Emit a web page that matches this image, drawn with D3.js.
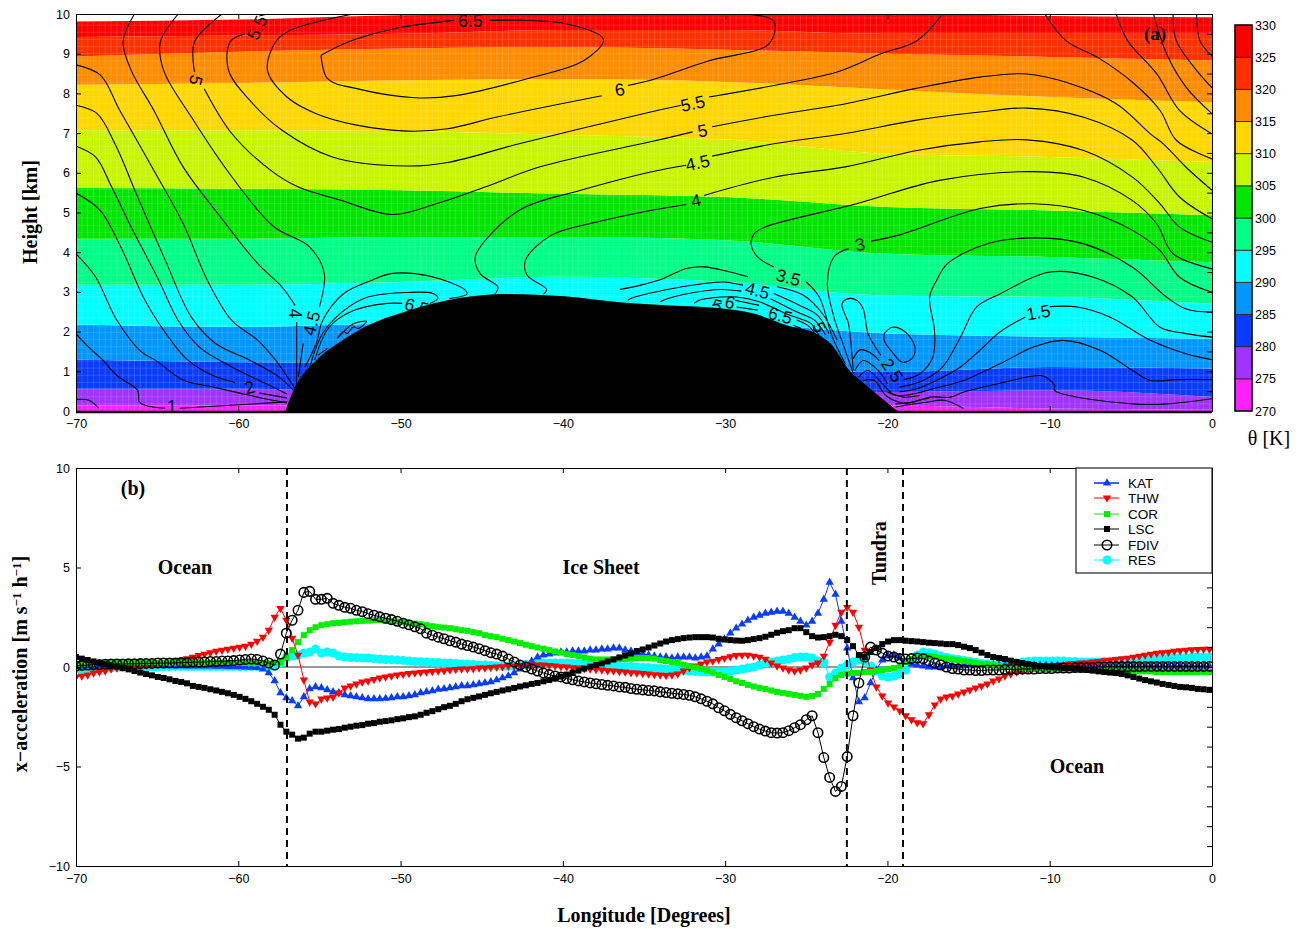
<!DOCTYPE html>
<html>
<head>
<meta charset="utf-8">
<script src="https://d3js.org/d3.v7.min.js"></script>
<style>
body { margin: 0; background: #fff; }
svg { display: block; }
.tick text { font-family: "Liberation Sans", sans-serif; font-size: 12.5px; fill: #000; }
.serif { font-family: "Liberation Serif", serif; font-weight: bold; }
</style>
</head>
<body>
<svg id="chart" width="1299" height="929"></svg>
<script>
'use strict'

// potential temperature band edges, km, at bandLon
const bandLon = [-70, -60, -50, -40, -30, -20, -10, 0];
const theta270 = [0, 0, 0, 0, 0, 0, 0, 0];
const theta275 = [.14, .14, .14, .14, .14, .14, .06, .03];
const theta280 = [.56, .56, .5, .5, .5, .48, .52, .35];
const theta285 = [1.3, 1.23, 1.2, 1.2, 1.1, .98, 1.11, 1.07];
const theta290 = [2.18, 2.12, 2.2, 2.2, 2.2, 1.95, 1.87, 1.82];
const theta295 = [3.18, 3.18, 3.25, 3.38, 3.25, 2.91, 2.87, 2.7];
const theta300 = [4.34, 4.34, 4.38, 4.38, 4.3, 3.96, 3.88, 3.75];
const theta305 = [5.62, 5.6, 5.56, 5.47, 5.39, 5.14, 5.05, 4.93];
const theta310 = [7.07, 7.07, 7.05, 6.95, 6.84, 6.48, 6.4, 6.27];
const theta315 = [8.22, 8.26, 8.33, 8.36, 8.29, 8.1, 7.91, 7.78];
const theta320 = [8.93, 9.05, 9.13, 9.17, 9.1, 9, 8.92, 8.83];
const theta325 = [9.42, 9.46, 9.5, 9.6, 9.6, 9.5, 9.5, 9.5];
const theta330 = [9.81, 9.86, 9.97, 10, 10, 10, 9.95, 9.92];
const thetaEdges = [theta270, theta275, theta280, theta285, theta290, theta295, theta300, theta305, theta310, theta315, theta320, theta325, theta330];
const thetaTicks = [270, 275, 280, 285, 290, 295, 300, 305, 310, 315, 320, 325, 330];
const thetaColors = ['#ff20ff', '#a033ff', '#0a3cff', '#0096ff', '#00ffff', '#00ff87', '#00e600', '#c8f500', '#ffd700', '#ff8c00', '#ff3000', '#ff0000'];

// ice sheet profile
const terrainLon = [-57.1, -56.6, -55.2, -53.7, -52.1, -49.6, -46.3, -43.5, -39.9, -36.5, -33.4, -30.3, -28.3, -26.2, -24.2, -23.5, -22.3, -21.4, -20.2, -19.4];
const terrainKm = [0, .52, 1.28, 1.75, 2.14, 2.52, 2.85, 2.95, 2.89, 2.74, 2.66, 2.59, 2.46, 2.16, 1.91, 1.7, 1, .68, .27, 0];

// wind speed contours, [lon, km], null where a label breaks the line
const cornerLow = [[-70, .29], [-69.2, .27], [-68.6, .07]];
const oneLeft = [[-70, 1.95], [-69.2, 1.6], [-68.4, 1.3], [-67.5, .9], [-66.2, .52], [-66.1, .23], [-65.7, .14], [-64.5, .07], null, [-63.6, .07], [-60.7, .14], [-57, .23]];
const leftB = [[-70, 3.96], [-68.8, 3.38], [-67.5, 2.3], [-66, 1.5], [-65, 1.25], [-63.4, .78], [-61.5, .6], [-59.9, .45], [-58.5, .32], [-57, .2]];
const twoLeft = [[-70, 5.49], [-68.5, 5.05], [-67.2, 4.1], [-65.7, 2.75], [-64.1, 1.75], [-63.1, 1.28], [-61.6, .9], [-60.2, .72], null, [-58.7, .45], [-57, .33]];
const leftD = [[-70, 6.67], [-68.8, 6.4], [-67.8, 5.64], [-66.5, 4.55], [-65, 3.38], [-63.7, 2.28], [-62.4, 1.61], [-60.4, 1.11], [-58.3, .69], [-57, .43]];
const leftE = [[-70, 7.7], [-68.7, 7.49], [-67.6, 6.73], [-66.2, 5.39], [-64.5, 3.8], [-62.9, 2.37], [-61.4, 1.7], [-59.3, 1.28], [-57.5, .86], [-56.6, .52]];
const leftF = [[-70, 8.72], [-68.5, 8.46], [-67.3, 7.57], [-65.2, 6.06], [-63.4, 4.72], [-61.9, 3.29], [-60.4, 2.28], [-58.8, 1.78], [-57.7, 1.28], [-56.5, .56]];
const fourLeft = [[-66.4, 10], [-67.1, 9.3], [-66.6, 8.58], [-65.2, 7.57], [-63.4, 6.15], [-61.1, 4.89], [-58.8, 3.71], [-57.3, 3.12], [-56.5, 2.66], null, [-56.4, 2.24], [-56.4, .56]];
const fourFiveLeft = [[-63.7, 10], [-64.8, 9.3], [-64.6, 8.58], [-62.9, 7.41], [-60.4, 5.9], [-57.8, 4.64], [-55.6, 4.13], [-54.7, 3.46], [-55, 2.62], null, [-56, 1.7], [-56.3, .86]];
const six5Top = [[-54.9, 8.96], [-54.5, 8.37], [-52.7, 8.12], [-49.1, 7.89], [-46.5, 7.95], [-42.2, 8.37], [-38.7, 8.83], [-37.5, 9.36], [-39.9, 9.76], [-44.5, 9.84], null, [-46.7, 9.84], [-50.4, 9.63], [-53.2, 9.3], [-54.9, 8.96]];
const sixTop = [[-52.9, 10], [-56.8, 9.59], [-57.7, 9.3], [-58.2, 8.58], [-57, 7.91], [-55.2, 7.49], [-52.7, 7.2], [-49.6, 7.05], [-47.1, 7.11], [-44, 7.41], [-37.6, 7.94], null, [-36, 8.2], [-34.6, 8.33], [-31, 8.82], [-27.3, 9.25], [-27, 9.82], [-28.9, 10]];
const fiveFive = [[-58.2, 10], [-58.7, 9.95], null, [-59.6, 9.5], [-60.5, 9.3], [-60.6, 8.58], [-59.3, 7.83], [-57.3, 7.07], [-54.2, 6.4], [-49.6, 6.17], [-47.1, 6.26], [-42.7, 6.73], [-34.6, 7.53], [-32.7, 7.7], null, [-31, 7.91], [-27, 8.2], [-23.1, 8.54], [-20.4, 9], [-18.2, 9.32], [-16.6, 10]];
const five = [[-61, 10], [-62.7, 9.3], [-62.7, 8.54], null, [-62.1, 8.12], [-60.4, 6.99], [-58, 6.06], [-56.3, 5.64], [-53.7, 5.31], [-50.5, 4.95], [-47.8, 5.22], [-44.8, 5.64], [-41.4, 6.15], [-34.6, 6.78], [-32, 7.03], null, [-30.8, 7.16], [-27, 7.45], [-23.1, 7.7], [-18.3, 8.12], [-14.3, 8.41], [-11.4, 8.49], [-9, 8.28], [-5.9, 7.74], [-3.8, 6.98], [-3, 6.73], [-1.6, 6.14], [0, 5.56]];
const fourFive = [[-44.2, 2.94], [-44, 3.12], [-45.1, 3.46], [-45.4, 3.88], [-44.6, 4.38], [-42.5, 5.1], [-38.9, 5.56], [-34.6, 6.02], [-32.4, 6.19], null, [-30.8, 6.42], [-27, 6.73], [-22.6, 6.99], [-18.3, 7.32], [-14.3, 7.53], [-11.4, 7.63], [-7.9, 7.4], [-4.9, 6.82], [-3.4, 6.14], [-2, 5.39], [0, 4.84]];
const four = [[-41.2, 2.94], [-41, 3.06], [-42.2, 3.42], [-42.3, 3.8], [-40.7, 4.43], [-37.9, 4.76], [-34.6, 5.05], [-32.4, 5.2], null, [-31.3, 5.43], [-27, 5.89], [-22.6, 6.15], [-18.1, 6.57], [-14.3, 6.78], [-11.4, 6.83], [-7.9, 6.56], [-4.9, 5.89], [-3.2, 5.22], [-2, 4.63], [0, 4.25]];
const threeFive = [[-22.6, 1.19], [-23.4, 1.87], [-24.2, 2.87], [-25, 3.25], null, [-27, 3.63], [-28, 3.88], [-28.4, 4.22], [-28.2, 4.47], [-27.5, 4.64], [-21.9, 5.22], [-16.8, 5.81], [-11, 6.03], [-7.9, 5.89], [-4.9, 5.3], [-3.4, 4.71], [-2.4, 3.96], [0, 3.58]];
const three = [[-22.1, .94], [-22.6, 1.53], [-23.3, 2.37], [-23.7, 3.21], [-23.3, 3.88], [-22.4, 4.09], null, [-21, 4.28], [-19.3, 4.43], [-14.3, 5.1], [-11, 5.22], [-7.9, 5.05], [-4.9, 4.55], [-3.2, 4.04], [-2, 3.37], [0, 2.99]];
const twoFive = [[-19, .79], [-18, .94], [-17.2, 1.36], [-17.1, 2.03], [-17.4, 2.87], [-16.97, 3.29], [-16.3, 3.71], [-13.8, 4.22], [-10.8, 4.36], [-7.9, 4.21], [-4.9, 3.62], [-2.8, 2.87], [-1.6, 2.57], [0, 2.49]];
const two = [[-19.3, .6], [-17.8, .77], [-16.6, 1.11], [-15.5, 1.86], [-14.5, 2.62], [-13.07, 2.95], [-10, 3.5], [-7.3, 3.37], [-4.9, 2.87], [-3.2, 2.11], [-1.6, 1.95], [0, 1.86]];
const oneFive = [[-19.3, .48], [-18.2, .56], [-17, .77], [-15.5, 1.11], [-14.3, 1.53], [-13.07, 1.99], [-11.5, 2.37], null, [-10, 2.63], [-8.3, 2.62], [-6.3, 2.37], [-3.8, 1.78], [-1.6, 1.44], [0, 1.29]];
const one = [[-20, .48], [-19.4, .39], [-18.4, .43], [-17.2, .56], [-15.3, .77], [-13.07, 1.19], [-11, 1.61], [-9.2, 1.78], [-6.9, 1.53], [-4.9, 1.02], [-3.8, .77], [-2.2, .79], [0, .79]];
const low = [[-19.5, .18], [-18.4, .22], [-17.4, .35], [-16.1, .35], [-15.3, .48], [-13.07, .7], [-11, .88], [-10.4, .88], [-9.7, .65], [-9.7, .52], [-8.8, .39], [-4.9, .18], [-2.8, .18], [0, .31]];
const lowB = [[-19.5, .1], [-17.6, .22], [-16.5, .27], [-15.3, .06]];
const rightA = [[-.95, 10], [-.75, 9.33], [0, 8.94]];
const rightB = [[-2.4, 10], [-2.2, 9.33], [-.95, 8.58], [0, 8.14]];
const rightC = [[-3.6, 10], [-2.8, 9], [-1.6, 8.16], [0, 7.49]];
const rightD = [[-5.9, 10], [-5.2, 9.33], [-3.4, 8.49], [-2, 7.57], [0, 6.98]];
const rightE = [[-10.3, 10], [-9, 9.33], [-6.9, 8.87], [-4.9, 8.28], [-3.2, 7.57], [-2.2, 6.82], [0, 6.35]];
const loopNarrow = [[-22.1, 1.02], [-22.2, 1.48], [-22.4, 2.2], [-22.8, 2.7], [-22.4, 2.83], [-21.9, 2.79], [-21.5, 2.58], [-21.2, 1.95], [-20.8, 1.65], [-20.4, 1.4]];
const loopOval = [[-20.2, 1.95], [-19.7, 2.11], [-18.9, 1.99], [-18.3, 1.61], [-18.5, 1.32], [-19.1, 1.23], [-19.7, 1.48], [-20.2, 1.78], [-20.2, 1.95]];
const rippleA = [[-22.1, 1.32], [-21.7, 1.54], [-21.1, 1.48], [-20.5, 1.27]];
const rippleB = [[-22, 1.02], [-21.5, 1.27], [-20.8, 1.11], [-20.4, .94], [-20, .69]];
const rippleC = [[-21.8, .85], [-21.2, 1.02], [-20.5, .77], [-19.7, .44], [-19, .35], [-18, .39]];
const rippleD = [[-21.5, .77], [-20.8, .77], [-20.1, .39], [-19, .2], [-18, .28], [-17.4, .33]];
const slopeA = [[-36.5, 3.06], [-35.2, 3.17], [-33.8, 3.34], [-32.4, 3.59], [-31.3, 3.63], [-29.7, 3.5], [-28.6, 3.38], null, [-26.8, 3.13], [-25.2, 2.92], [-24, 2.45], [-23.1, 1.78]];
const slopeB = [[-36, 2.79], [-35.7, 2.85], [-33.8, 3.04], [-31.3, 3.21], [-30.1, 3.25], [-28.9, 3.17], null, [-27, 2.96], [-25.4, 2.66], [-24.3, 2.41], [-23.6, 1.95]];
const slopeC = [[-34, 2.75], [-33.7, 2.81], [-32, 2.98], [-30.3, 3.06], [-29, 3.02], null, [-27.2, 2.83], [-25.6, 2.5], [-24.5, 2.29], [-23.8, 1.91]];
const slopeD = [[-31.9, 2.71], [-31.6, 2.79], [-30.3, 2.87], [-29.3, 2.87], [-27.9, 2.75], [-26, 2.41], [-24.7, 2.2], [-24.2, 1.87]];
const slopeE = [[-30.8, 2.66], [-30.2, 2.72], null, [-29.4, 2.79], [-27.9, 2.66], null, [-25.6, 2.29], [-24.8, 2.12], [-24.3, 1.82]];
const slopeF = [[-29.3, 2.62], [-28, 2.54], null, [-25.8, 2.16], [-25.3, 2.08]];
const moundA = [[-55.9, 1.1], [-55.2, 1.7], [-54.8, 2.28], [-53.5, 2.96], [-51.8, 3.29], [-50.6, 3.46], [-49.1, 3.46], [-47.6, 3.33], [-46, 3.04], [-45.9, 2.95], [-47, 2.83]];
const moundB = [[-55.6, 1.1], [-54.8, 1.96], [-53.5, 2.53], [-52.1, 2.86], [-49.9, 2.98], [-48, 2.96], [-47.7, 2.84], [-48.2, 2.71]];
const moundC = [[-55.3, 1.28], [-54.4, 2.11], [-52.9, 2.53], [-50.8, 2.71], [-49.9, 2.71]];
const moundD = [[-53.9, 1.83], [-53.5, 2], [-53.3, 1.95], [-52.9, 2.12], [-52.6, 2.08], [-52.1, 2.26], [-52.9, 2.2], [-53.3, 2.08], [-53.9, 1.83]];
const moundE = [[-55.1, 1.4], [-54.5, 1.58]];
const contours = [cornerLow, oneLeft, leftB, twoLeft, leftD, leftE, leftF, fourLeft, fourFiveLeft, six5Top, sixTop, fiveFive, five, fourFive, four, threeFive, three, twoFive, two, oneFive, one, low, lowB, rightA, rightB, rightC, rightD, rightE, loopNarrow, loopOval, rippleA, rippleB, rippleC, rippleD, slopeA, slopeB, slopeC, slopeD, slopeE, slopeF, moundA, moundB, moundC, moundD, moundE];

// contour labels: text, lon, km, rotation
const contourLabels = [
  ['1', -64.1, .12, 0], ['2', -59.3, .6, -15], ['4', -56.5, 2.46, 90], ['4.5', -55.5, 2.21, -75],
  ['5', -62.6, 8.33, 105], ['5.5', -58.85, 9.66, -65], ['6.5', -45.7, 9.84, 0], ['6', -36.5, 8.1, -10],
  ['5.5', -32, 7.75, -12], ['5', -31.4, 7.07, -10], ['4.5', -31.7, 6.26, -12], ['4', -31.8, 5.31, -12],
  ['3', -21.7, 4.2, -10], ['3.5', -26.1, 3.37, 15], ['4.5', -28, 3.04, 15], ['6', -29.7, 2.74, 15],
  ['5', -30.5, 2.66, 15], ['6.5', -26.6, 2.41, 15], ['5', -24.2, 2.11, 65], ['2.5', -19.7, 1.03, 55],
  ['1.5', -10.7, 2.49, -10], ['6.5', -49, 2.64, 15]
];

// x-acceleration terms, one value every lonStep degrees from lonStart
const lonStart = -70;
const lonStep = 0.36;
const kat = [
  .02,.03,.04,.05,.05,.06,.07,.07,.08,.08, .08,.09,.09,.08,.08,.07,.07,.06,.06,.05,
  .05,.05,.04,.04,.03,.03,.02,.02,.01,0, -.02,-.03,-.1,-.3,-.7,-1.3,-1.55,-1.7,-1.95,-1.5,
  -1.1,-1,-1.05,-1.15,-1.25,-1.3,-1.4,-1.45,-1.5,-1.55, -1.6,-1.6,-1.6,-1.58,-1.55,-1.5,-1.5,-1.45,-1.4,-1.3,
  -1.25,-1.2,-1.12,-1.1,-1.05,-1,-.95,-.95,-.9,-.85, -.8,-.75,-.65,-.55,-.45,-.3,-.1,.1,.3,.5,
  .6,.65,.7,.75,.75,.8,.8,.8,.85,.85, .9,.9,.95,.95,.85,.8,.7,.65,.6,.55,
  .5,.5,.45,.5,.5,.5,.45,.5,.55,.9, 1.15,1.4,1.7,1.95,2.15,2.35,2.5,2.6,2.7,2.75,
  2.8,2.8,2.7,2.5,2.3,2.1,2.3,2.7,3.4,4.25, 3.65,2.3,.95,-.55,-1.75,-1.55,-.8,-.15,.35,.55,
  .6,.45,.25,.15,.1,.05,0,0,0,.05, .05,.05,.1,.1,.1,.1,.1,.1,.1,.1,
  .1,.1,.1,.1,.1,.1,.1,.08,.08,.08, .08,.08,.08,.08,.05,.05,.05,.05,.05,.05,
  .05,.05,.05,.05,.05,.05,.05,.05,.05,.05, .05,.05,.05,.05,.05
];
const thw = [
  -.5,-.45,-.4,-.3,-.25,-.2,-.1,-.05,0,.05, .08,.1,.1,.12,.15,.2,.25,.3,.35,.42,
  .5,.58,.65,.72,.8,.85,.9,.95,1,1.05, 1.15,1.3,1.5,1.85,2.5,2.95,2.35,1.45,.6,-.65,
  -1.75,-1.85,-1.6,-1.55,-1.5,-1.3,-1.05,-.95,-.85,-.75, -.7,-.62,-.55,-.5,-.45,-.4,-.36,-.32,-.3,-.27,
  -.25,-.22,-.2,-.18,-.15,-.12,-.1,-.1,-.08,-.05, -.05,-.02,0,.02,.05,.05,.08,.1,.1,.1,
  .1,.08,.05,.02,0,-.03,-.05,-.08,-.1,-.12, -.15,-.18,-.2,-.22,-.25,-.28,-.3,-.32,-.35,-.38,
  -.4,-.42,-.4,-.35,-.2,-.05,.05,.15,.25,.3, .38,.45,.52,.58,.6,.6,.55,.5,.4,.2,
  .05,-.05,-.15,-.2,-.15,-.05,.1,.2,.55,1.25, 2.1,2.75,3,2.75,2,.85,-.15,-1,-1.45,-1.8,
  -2,-2.2,-2.45,-2.65,-2.8,-2.85,-2.4,-1.9,-1.6,-1.5, -1.45,-1.35,-1.25,-1.15,-1.05,-.95,-.85,-.7,-.6,-.45,
  -.35,-.25,-.18,-.12,-.05,0,.02,.05,.08,.1, .15,.17,.2,.22,.25,.28,.32,.35,.38,.42,
  .45,.5,.55,.6,.65,.7,.72,.75,.8,.82, .85,.87,.88,.9,.9
];
const cor = [
  .12,.15,.18,.2,.2,.22,.22,.25,.25,.25, .22,.22,.25,.25,.22,.22,.2,.2,.22,.22,
  .22,.2,.2,.2,.22,.22,.2,.2,.2,.2, .2,.2,.2,.18,.2,.25,.45,.85,1.25,1.6,
  1.85,2,2.1,2.15,2.2,2.22,2.25,2.28,2.3,2.32, 2.33,2.35,2.35,2.33,2.3,2.28,2.25,2.2,2.18,2.15,
  2.1,2.05,2,1.98,1.95,1.9,1.85,1.82,1.75,1.7, 1.6,1.55,1.5,1.42,1.35,1.28,1.2,1.12,1.05,.98,
  .92,.85,.78,.72,.65,.6,.55,.48,.42,.38, .38,.38,.38,.4,.4,.42,.45,.45,.45,.42,
  .35,.3,.25,.2,.12,.05,-.02,-.1,-.18,-.28, -.4,-.5,-.6,-.72,-.8,-.9,-.98,-1.05,-1.1,-1.18,
  -1.25,-1.3,-1.35,-1.4,-1.45,-1.5,-1.45,-1.35,-1.1,-.85, -.55,-.4,-.33,-.3,-.3,-.25,-.25,-.2,-.15,-.1,
  -.05,.05,.25,.4,.5,.55,.55,.5,.45,.42, .38,.35,.3,.25,.2,.15,.12,.1,.05,.02,
  0,-.02,-.05,-.05,-.08,-.08,-.1,-.1,-.1,-.12, -.12,-.12,-.15,-.15,-.15,-.15,-.18,-.18,-.2,-.2,
  -.2,-.2,-.22,-.22,-.22,-.25,-.25,-.25,-.25,-.25, -.25,-.25,-.25,-.25,-.25
];
const lsc = [
  .5,.42,.35,.28,.2,.14,.08,.02,-.05,-.12, -.2,-.28,-.35,-.42,-.5,-.55,-.62,-.7,-.75,-.82,
  -.95,-1,-1.05,-1.12,-1.18,-1.25,-1.32,-1.4,-1.5,-1.6, -1.72,-1.85,-2,-2.15,-2.4,-2.9,-3.25,-3.4,-3.6,-3.55,
  -3.35,-3.25,-3.25,-3.2,-3.15,-3.12,-3.05,-3,-2.95,-2.92, -2.85,-2.82,-2.75,-2.72,-2.68,-2.62,-2.58,-2.52,-2.48,-2.4,
  -2.3,-2.22,-2.12,-2.02,-1.95,-1.85,-1.72,-1.62,-1.55,-1.48, -1.4,-1.32,-1.25,-1.18,-1.12,-1.05,-.98,-.92,-.85,-.8,
  -.72,-.65,-.58,-.48,-.38,-.28,-.18,-.08,.02,.1, .18,.28,.38,.48,.58,.68,.8,.88,.98,1.08,
  1.18,1.28,1.35,1.4,1.45,1.48,1.5,1.5,1.5,1.48, 1.42,1.38,1.35,1.33,1.32,1.35,1.4,1.45,1.52,1.62,
  1.72,1.8,1.85,1.95,1.95,1.75,1.55,1.48,1.5,1.55, 1.62,1.55,1.35,1.05,.6,.5,.75,.95,1.15,1.28,
  1.35,1.35,1.32,1.3,1.28,1.25,1.22,1.2,1.18,1.15, 1.15,1.1,1.02,.95,.85,.72,.6,.5,.45,.4,
  .32,.25,.2,.15,.1,.05,.02,0,-.02,-.05, -.05,-.08,-.1,-.15,-.18,-.22,-.25,-.28,-.3,-.35,
  -.42,-.5,-.58,-.66,-.72,-.78,-.85,-.9,-.95,-1, -1.02,-1.05,-1.1,-1.12,-1.15
];
const fdiv = [
  .05,.08,.1,.12,.12,.14,.15,.15,.15,.16, .16,.17,.18,.18,.2,.2,.2,.2,.22,.22,
  .25,.25,.25,.28,.28,.3,.3,.32,.35,.38, .4,.38,.3,.2,.1,.65,1.7,2.35,2.85,3.75,
  3.8,3.4,3.4,3.45,3.2,3.1,3,2.95,2.85,2.78, 2.68,2.6,2.52,2.45,2.38,2.3,2.2,2.12,2.02,1.92,
  1.7,1.6,1.5,1.42,1.32,1.25,1.15,1.08,1,.92, .82,.72,.65,.55,.4,.25,.1,0,-.1,-.2,
  -.3,-.38,-.45,-.5,-.58,-.64,-.7,-.75,-.8,-.84, -.88,-.92,-.95,-1,-1.02,-1.08,-1.12,-1.15,-1.18,-1.2,
  -1.25,-1.28,-1.32,-1.35,-1.38,-1.42,-1.5,-1.6,-1.72,-1.85, -2.05,-2.2,-2.38,-2.55,-2.7,-2.85,-3,-3.12,-3.22,-3.3,
  -3.32,-3.3,-3.2,-3.05,-2.9,-2.65,-2.45,-3.3,-4.55,-5.55, -6.25,-6,-4.5,-2.45,-.8,.5,1,.85,.7,.55,
  .5,.42,.4,.42,.45,.42,.3,.2,.1,0, -.08,-.1,-.15,-.15,-.18,-.18,-.15,-.15,-.15,-.12,
  -.12,-.12,-.1,-.1,-.1,-.08,-.08,-.08,-.05,-.05, -.05,-.03,-.03,-.02,-.02,0,0,.02,.02,.02,
  .02,.02,.02,.03,.03,.03,.03,.03,.03,.03, .03,.03,.03,.03,.03
];
const res = [
  -.1,-.1,-.08,-.08,-.05,-.05,-.05,-.03,-.03,-.02, -.02,-.02,0,0,0,.02,.02,.02,.02,.02,
  .02,.02,.02,.02,.02,.02,.02,.02,.02,.02, .02,.02,.02,.02,.05,.2,.5,.55,.6,.7,
  .75,.9,.7,.75,.7,.55,.5,.48,.47,.45, .45,.42,.4,.38,.36,.35,.33,.3,.28,.26,
  .25,.23,.22,.2,.2,.18,.15,.15,.12,.1, .1,.08,.05,.03,.03,.05,.08,.12,.15,.18,
  .2,.2,.2,.2,.2,.18,.18,.15,.15,.12, .1,.08,.06,.05,.03,.02,0,-.02,-.03,-.05,
  -.08,-.1,-.12,-.15,-.18,-.2,-.22,-.25,-.25,-.25, -.25,-.25,-.2,-.15,-.1,-.05,0,.1,.2,.25,
  .3,.35,.4,.48,.5,.5,.45,.3,.2,-.5, -.3,-.05,.1,.25,.35,.3,.05,-.2,-.45,-.5,
  -.45,-.35,-.15,.3,.6,.75,.72,.65,.55,.48, .42,.38,.32,.28,.22,.18,.15,.12,.12,.15,
  .18,.2,.25,.28,.3,.3,.3,.3,.3,.3, .28,.28,.25,.25,.25,.25,.28,.28,.3,.3,
  .32,.32,.35,.38,.4,.42,.42,.45,.45,.48, .48,.5,.5,.5,.5
];

const lonTicks = [-70, -60, -50, -40, -30, -20, -10, 0];
const kmTicks = [0, 1, 2, 3, 4, 5, 6, 7, 8, 9, 10];
const accelTicks = [-10, -5, 0, 5, 10];
const regionLines = [-57, -22.5, -19.04];

const svg = d3.select('#chart');
const LEFT = 76, RIGHT = 1212;

const xA = d3.scaleLinear().domain([-70, 0]).range([LEFT, RIGHT]);
const yA = d3.scaleLinear().domain([0, 10]).range([411, 14]);
const xB = d3.scaleLinear().domain([-70, 0]).range([LEFT, RIGHT]);
const yB = d3.scaleLinear().domain([-10, 10]).range([866, 468]);
const yBar = d3.scaleLinear().domain([270, 330]).range([411, 25]);

svg.append('clipPath').attr('id', 'panelA').append('rect')
  .attr('x', LEFT).attr('y', 14).attr('width', RIGHT - LEFT).attr('height', 397);
svg.append('clipPath').attr('id', 'panelB').append('rect')
  .attr('x', LEFT).attr('y', 468).attr('width', RIGHT - LEFT).attr('height', 398);

// panel (a)
const panelA = svg.append('g').attr('clip-path', 'url(#panelA)');

const bandArea = d3.area()
  .x(d => xA(d.lon))
  .y0(d => yA(d.lo))
  .y1(d => yA(d.hi))
  .curve(d3.curveMonotoneX);

thetaColors.forEach((color, i) => {
  const rows = bandLon.map((lon, j) => ({ lon: lon, lo: thetaEdges[i][j], hi: thetaEdges[i + 1][j] }));
  panelA.append('path').attr('d', bandArea(rows)).attr('fill', color);
});

// faint model mesh seen through the shading
const meshLon = d3.range(lonStart, 0, lonStep);
const meshKm = d3.range(0, 10, 0.18);
panelA.append('g').selectAll('line').data(meshLon).enter().append('line')
  .attr('x1', d => xA(d)).attr('x2', d => xA(d)).attr('y1', yA(0)).attr('y2', yA(10))
  .attr('stroke', '#fff').attr('stroke-opacity', 0.16);
panelA.append('g').selectAll('line').data(meshKm).enter().append('line')
  .attr('x1', LEFT).attr('x2', RIGHT).attr('y1', d => yA(d)).attr('y2', d => yA(d))
  .attr('stroke', '#fff').attr('stroke-opacity', 0.13);

const contourLine = d3.line()
  .defined(d => d !== null)
  .x(d => xA(d[0]))
  .y(d => yA(d[1]))
  .curve(d3.curveCatmullRom);

panelA.append('g').selectAll('path').data(contours).enter().append('path')
  .attr('d', contourLine)
  .attr('fill', 'none').attr('stroke', '#000').attr('stroke-width', 1.1);

panelA.append('g').selectAll('text').data(contourLabels).enter().append('text')
  .attr('transform', d => 'translate(' + xA(d[1]) + ',' + yA(d[2]) + ') rotate(' + d[3] + ')')
  .attr('text-anchor', 'middle').attr('dy', '.36em')
  .style('font-family', '"Liberation Sans", sans-serif').style('font-size', '17.5px')
  .text(d => d[0]);

const terrainRows = terrainLon.map((lon, i) => ({ lon: lon, km: terrainKm[i] }));
panelA.append('path')
  .attr('d', d3.area().x(d => xA(d.lon)).y0(yA(0)).y1(d => yA(d.km)).curve(d3.curveMonotoneX)(terrainRows))
  .attr('fill', '#000');

function frame(x, y, top, bottom, lonVals, yVals, rightVals) {
  svg.append('g').attr('transform', 'translate(0,' + bottom + ')')
    .call(d3.axisBottom(x).tickValues(lonVals).tickSize(-5).tickSizeOuter(0).tickPadding(8));
  svg.append('g').attr('transform', 'translate(' + LEFT + ',0)')
    .call(d3.axisLeft(y).tickValues(yVals).tickSize(-5).tickSizeOuter(0).tickPadding(6));
  svg.append('g').attr('transform', 'translate(0,' + top + ')')
    .call(d3.axisTop(x).tickValues(lonVals).tickSize(-5).tickSizeOuter(0).tickFormat(''));
  svg.append('g').attr('transform', 'translate(' + RIGHT + ',0)')
    .call(d3.axisRight(y).tickValues(rightVals).tickSize(-5).tickSizeOuter(0).tickFormat(''));
}

frame(xA, yA, 14, 411, lonTicks, kmTicks, d3.range(0, 10.01, 0.5));
svg.append('line').attr('x1', LEFT).attr('x2', RIGHT).attr('y1', 412).attr('y2', 412)
  .attr('stroke', '#000').attr('stroke-width', 2.5);

// colour bar
const barX = 1235, barW = 17;
svg.append('g').selectAll('rect').data(thetaColors).enter().append('rect')
  .attr('x', barX).attr('width', barW)
  .attr('y', (d, i) => yBar(thetaTicks[i + 1]))
  .attr('height', (d, i) => yBar(thetaTicks[i]) - yBar(thetaTicks[i + 1]))
  .attr('fill', d => d)
  .attr('stroke', '#222').attr('stroke-width', 0.8);
svg.append('rect').attr('x', barX).attr('y', yBar(330)).attr('width', barW).attr('height', yBar(270) - yBar(330))
  .attr('fill', 'none').attr('stroke', '#111').attr('stroke-width', 1.5);
const barAxis = svg.append('g').attr('transform', 'translate(' + (barX + barW) + ',0)')
  .call(d3.axisRight(yBar).tickValues(thetaTicks).tickSize(0).tickPadding(3));
barAxis.select('.domain').remove();

// panel (b)
const panelB = svg.append('g').attr('clip-path', 'url(#panelB)');
panelB.append('line').attr('x1', xB(-70)).attr('x2', xB(0)).attr('y1', yB(0)).attr('y2', yB(0))
  .attr('stroke', '#777').attr('stroke-width', 1.5);

const seriesLine = d3.line()
  .x((d, i) => xB(lonStart + i * lonStep))
  .y(d => yB(d));

const triUp = d3.symbol().type(d3.symbolTriangle).size(30)();
const square = d3.symbol().type(d3.symbolSquare).size(36)();
const disc = d3.symbol().type(d3.symbolCircle).size(64)();
const ring = d3.symbol().type(d3.symbolCircle).size(70)();

const termSeries = [
  { name: 'RES', values: res, color: '#00ffff', shape: disc, rot: 0, open: false },
  { name: 'KAT', values: kat, color: '#0a3cff', shape: triUp, rot: 0, open: false },
  { name: 'THW', values: thw, color: '#ff0000', shape: triUp, rot: 180, open: false },
  { name: 'COR', values: cor, color: '#00ee00', shape: square, rot: 0, open: false },
  { name: 'LSC', values: lsc, color: '#000000', shape: square, rot: 0, open: false },
  { name: 'FDIV', values: fdiv, color: '#000000', shape: ring, rot: 0, open: true }
];

function marker(sel, s) {
  sel.attr('d', s.shape)
    .attr('fill', s.open ? 'none' : s.color)
    .attr('stroke', s.open ? s.color : 'none')
    .attr('stroke-width', s.open ? 1.6 : 0);
}

termSeries.forEach(s => {
  panelB.append('path').attr('d', seriesLine(s.values))
    .attr('fill', 'none').attr('stroke', s.color).attr('stroke-width', 1);
  panelB.append('g').selectAll('path').data(s.values).enter().append('path')
    .attr('transform', (d, i) => 'translate(' + xB(lonStart + i * lonStep) + ',' + yB(d) + ') rotate(' + s.rot + ')')
    .call(marker, s);
});

svg.append('g').selectAll('line').data(regionLines).enter().append('line')
  .attr('x1', d => xB(d)).attr('x2', d => xB(d)).attr('y1', yB(10)).attr('y2', yB(-10))
  .attr('stroke', '#000').attr('stroke-width', 2).attr('stroke-dasharray', '7,5');

frame(xB, yB, 468, 866, lonTicks, accelTicks, d3.range(-10, 10.01, 1));

// legend
const legendOrder = ['KAT', 'THW', 'COR', 'LSC', 'FDIV', 'RES'];
const legendY = [483, 498, 514, 529, 545, 560];
svg.append('rect').attr('x', 1076).attr('y', 468).attr('width', 136).attr('height', 105)
  .attr('fill', '#fff').attr('stroke', '#222').attr('stroke-width', 1.2);
legendOrder.forEach((name, i) => {
  const s = termSeries.find(t => t.name === name);
  svg.append('line').attr('x1', 1094).attr('x2', 1119).attr('y1', legendY[i]).attr('y2', legendY[i])
    .attr('stroke', s.color).attr('stroke-width', name === 'KAT' ? 1.6 : 1);
  svg.append('path').attr('transform', 'translate(1107,' + legendY[i] + ') rotate(' + s.rot + ')')
    .call(marker, s);
  svg.append('text').attr('x', 1128).attr('y', legendY[i] + 4.5)
    .style('font-family', '"Liberation Sans", sans-serif').style('font-size', '13.5px')
    .text(name);
});

// titles and annotations
function note(x, y, txt, size, rot, bold) {
  return svg.append('text').attr('class', 'serif')
    .attr('transform', 'translate(' + x + ',' + y + ') rotate(' + (rot || 0) + ')')
    .attr('text-anchor', 'middle')
    .style('font-size', size + 'px')
    .style('font-weight', bold === false ? 'normal' : 'bold')
    .text(txt);
}

note(37, 212, 'Height [km]', 20, -90);
note(1269, 445, 'θ [K]', 20, 0, false);
note(1155, 40, '(a)', 19);
note(133, 495, '(b)', 20);
note(185, 574, 'Ocean', 20);
note(601, 574, 'Ice Sheet', 20);
note(886, 553, 'Tundra', 20, -90);
note(1077, 773, 'Ocean', 20);
note(644, 922, 'Longitude [Degrees]', 20);

const yTitle = note(27, 664, '', 20, -90);
yTitle.append('tspan').text('x−acceleration [m s');
yTitle.append('tspan').attr('dy', -6).style('font-size', '13px').text('−1');
yTitle.append('tspan').attr('dy', 6).text(' h');
yTitle.append('tspan').attr('dy', -6).style('font-size', '13px').text('−1');
yTitle.append('tspan').attr('dy', 6).text(']');
</script>
</body>
</html>
